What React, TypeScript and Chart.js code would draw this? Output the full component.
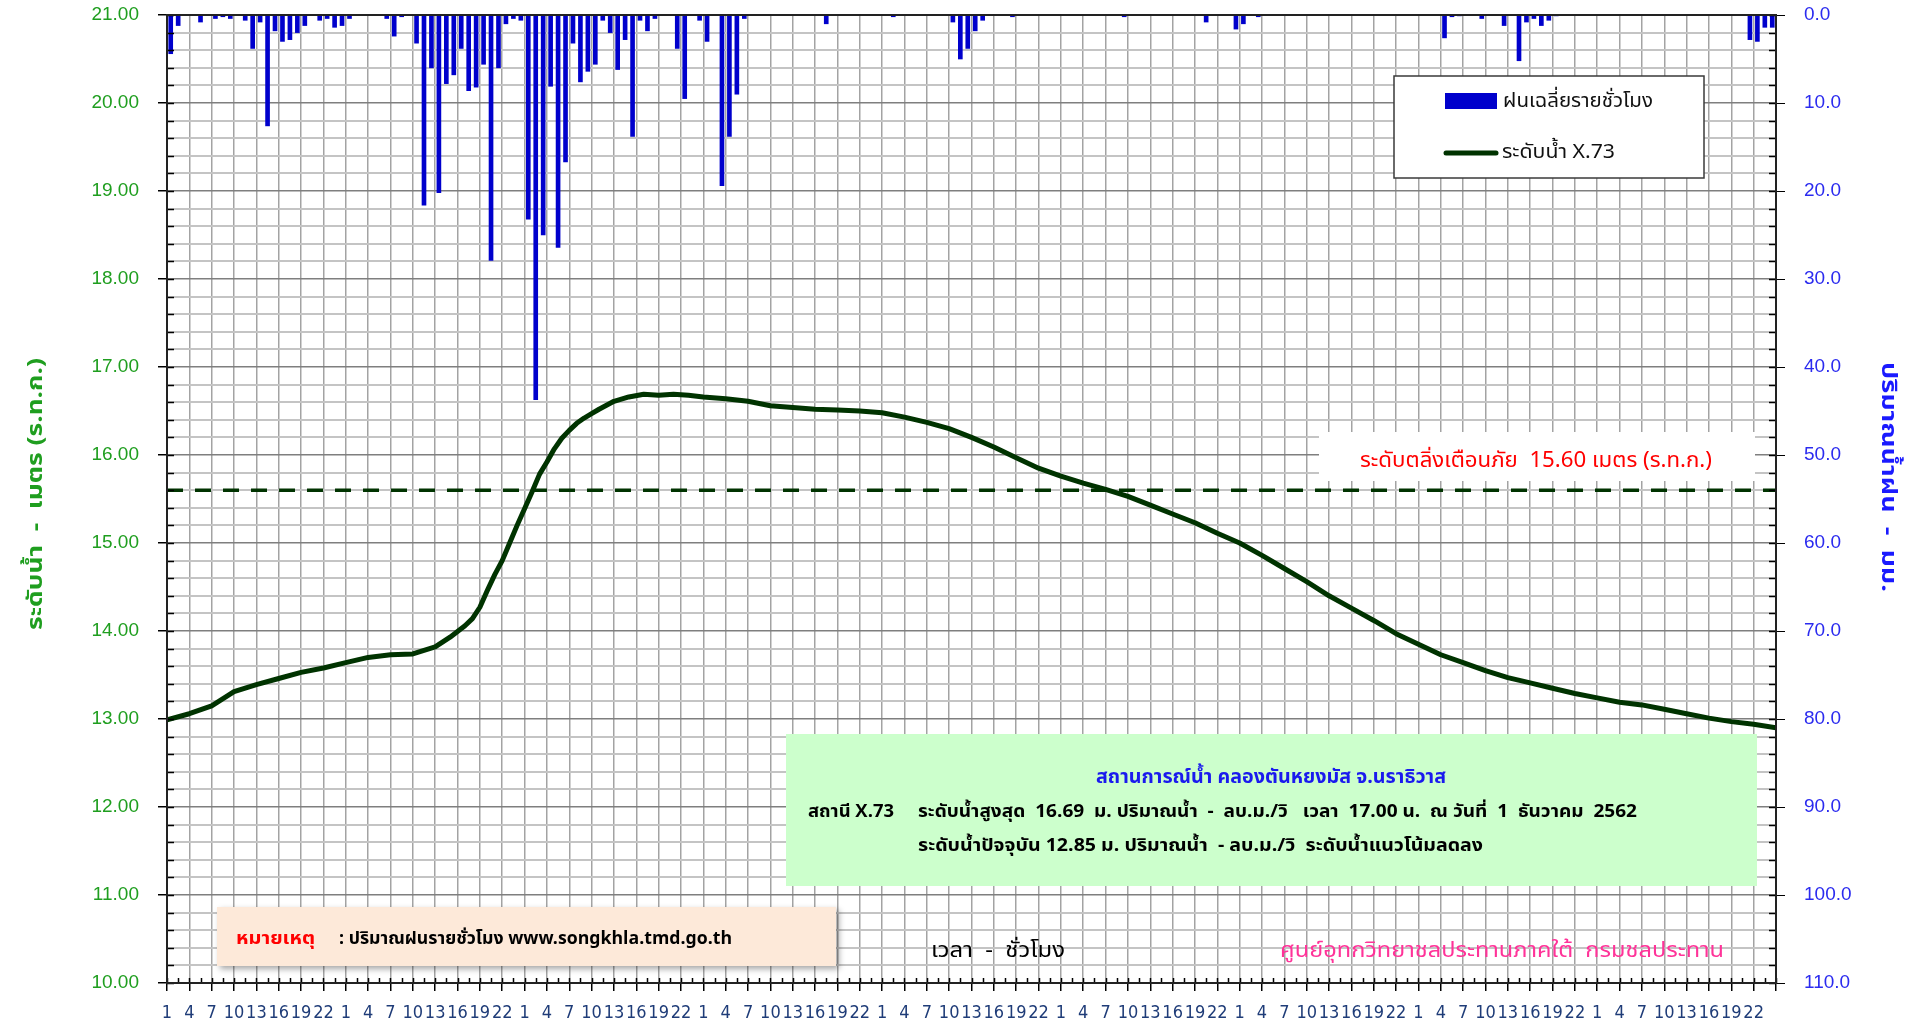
import { useEffect, useRef } from 'react';
import { Chart, registerables } from 'chart.js';

Chart.register(...registerables);

// ---------- data ----------
const hourTickLabels = ['1', '4', '7', '10', '13', '16', '19', '22'];

const levelHours = [
  0, 3, 6, 9, 12, 15, 18, 21, 24, 27, 30, 33, 36, 38, 40, 41, 42, 43, 44, 45, 46, 47, 48, 49, 50,
  51, 52, 53, 54, 55, 56, 57, 58, 60, 62, 64, 66, 68, 70, 72, 75, 78, 81, 84, 87, 90, 93, 96, 99,
  102, 105, 108, 111, 114, 117, 120, 123, 126, 129, 132, 135, 138, 141, 144, 147, 150, 153, 156,
  159, 162, 165, 168, 171, 174, 177, 180, 183, 186, 189, 192, 195, 198, 201, 204, 207, 210, 213, 216,
];
const levelValues = [
  12.99, 13.06, 13.15, 13.31, 13.39, 13.46, 13.53, 13.58, 13.64, 13.7, 13.73, 13.74, 13.82, 13.93,
  14.06, 14.14, 14.27, 14.46, 14.64, 14.8, 15.0, 15.2, 15.39, 15.58, 15.78, 15.92, 16.07, 16.19,
  16.28, 16.36, 16.42, 16.47, 16.52, 16.61, 16.66, 16.69, 16.68, 16.69, 16.68, 16.66, 16.64, 16.61,
  16.56, 16.54, 16.52, 16.51, 16.5, 16.48, 16.43, 16.37, 16.3, 16.2, 16.09, 15.97, 15.85, 15.76,
  15.68, 15.61, 15.53, 15.43, 15.33, 15.23, 15.11, 15.0, 14.86, 14.71, 14.56, 14.4, 14.26, 14.12,
  13.97, 13.85, 13.73, 13.64, 13.55, 13.47, 13.41, 13.35, 13.29, 13.24, 13.19, 13.16, 13.11, 13.06,
  13.01, 12.97, 12.94, 12.9,
];

const rainHours = [
  0, 1, 4, 6, 7, 8, 10, 11, 12, 13, 14, 15, 16, 17, 18, 20, 21, 22, 23, 24, 29, 30, 31, 33, 34, 35,
  36, 37, 38, 39, 40, 41, 42, 43, 44, 45, 46, 47, 48, 49, 50, 51, 52, 53, 54, 55, 56, 57, 58, 59,
  60, 61, 62, 63, 64, 65, 68, 69, 71, 72, 74, 75, 76, 77, 88, 97, 105, 106, 107, 108, 109, 113, 128,
  139, 143, 144, 146, 171, 172, 173, 176, 179, 181, 182, 183, 184, 185, 186, 212, 213, 214, 215,
];
const rainValues = [
  4.4, 1.2, 0.8, 0.4, 0.2, 0.4, 0.6, 3.8, 0.8, 12.6, 1.8, 3.0, 2.8, 2.0, 1.2, 0.6, 0.4, 1.4, 1.2,
  0.4, 0.4, 2.4, 0.2, 3.2, 21.6, 6.0, 20.2, 7.8, 6.8, 3.8, 8.6, 8.2, 5.6, 27.9, 6.0, 1.0, 0.4, 0.6,
  23.2, 43.7, 25.0, 8.1, 26.4, 16.7, 3.2, 7.6, 6.4, 5.6, 0.6, 2.0, 6.2, 2.8, 13.8, 0.6, 1.8, 0.4,
  3.8, 9.5, 0.6, 3.0, 19.4, 13.8, 9.0, 0.4, 1.0, 0.2, 0.8, 5.0, 3.8, 1.8, 0.6, 0.2, 0.2, 0.8, 1.6,
  1.0, 0.2, 2.6, 0.2, 0.1, 0.4, 1.2, 5.2, 0.8, 0.4, 1.2, 0.6, 0.1, 2.8, 3.0, 1.4, 1.4,
];

const warningLevel = 15.6;
const axisStart = 0;
const axisEnd = 216;

// ---------- styling ----------
const THAI = "'Noto Sans Thai', 'Noto Sans Thai UI', 'Tahoma', 'Loma', 'Garuda', 'Waree', 'DejaVu Sans', sans-serif";
const NUM = "'Liberation Sans', Arial, sans-serif";
const NARROW = "'Liberation Sans Narrow', 'DejaVu Sans Condensed', 'Liberation Sans', sans-serif";

const isInt = (v: number) => Math.abs(v - Math.round(v)) < 1e-6;

type TOpts = { size: number; weight?: string; color: string; align?: 'left' | 'center' | 'right'; width?: number; family?: string };

function drawText(ctx: CanvasRenderingContext2D, s: string, x: number, y: number, o: TOpts) {
  ctx.save();
  ctx.font = `${o.weight || 'normal'} ${o.size}px ${o.family || THAI}`;
  ctx.fillStyle = o.color;
  ctx.textBaseline = 'alphabetic';
  ctx.textAlign = 'left';
  const m = ctx.measureText(s).width;
  const w = o.width ?? m;
  const sx = w / m;
  let x0 = x;
  if (o.align === 'center') x0 = x - w / 2;
  else if (o.align === 'right') x0 = x - w;
  ctx.translate(x0, y);
  ctx.scale(sx, 1);
  ctx.fillText(s, 0, 0);
  ctx.restore();
}

function drawRot(ctx: CanvasRenderingContext2D, s: string, cx: number, cy: number, angle: number, o: TOpts) {
  ctx.save();
  ctx.translate(cx, cy);
  ctx.rotate(angle);
  drawText(ctx, s, 0, 0, { ...o, align: 'center' });
  ctx.restore();
}

const decor = {
  id: 'decor',
  afterDatasetsDraw(chart: any) {
    const ctx: CanvasRenderingContext2D = chart.ctx;
    ctx.save();

    // legend box
    ctx.fillStyle = '#ffffff';
    ctx.fillRect(1394, 76, 310, 102);
    ctx.strokeStyle = '#3a3a3a';
    ctx.lineWidth = 1.5;
    ctx.strokeRect(1394, 76, 310, 102);
    ctx.fillStyle = '#0000cc';
    ctx.fillRect(1445, 93, 52, 16);
    drawText(ctx, 'ฝนเฉลี่ยรายชั่วโมง', 1503, 107, { size: 20, color: '#111', width: 150 });
    ctx.strokeStyle = '#003300';
    ctx.lineWidth = 5;
    ctx.lineCap = 'round';
    ctx.beginPath();
    ctx.moveTo(1446, 153);
    ctx.lineTo(1496, 153);
    ctx.stroke();
    drawText(ctx, 'ระดับน้ำ X.73', 1502, 158, { size: 20, color: '#111', width: 113 });

    // warning label
    ctx.fillStyle = '#ffffff';
    ctx.fillRect(1319, 432, 436, 49);
    drawText(ctx, 'ระดับตลิ่งเตือนภัย  15.60 เมตร (ร.ท.ก.)', 1360, 467, { size: 21, color: '#ff0000', width: 352 });

    // info box
    ctx.fillStyle = '#ccffcc';
    ctx.fillRect(786, 734, 971, 152);
    drawText(ctx, 'สถานการณ์น้ำ คลองตันหยงมัส จ.นราธิวาส', 1271, 783, { size: 19, weight: 'bold', color: '#1a1aee', align: 'center', width: 350 });
    drawText(ctx, 'สถานี X.73', 808, 817, { size: 17, weight: 'bold', color: '#000', width: 86 });
    drawText(ctx, 'ระดับน้ำสูงสุด  16.69  ม. ปริมาณน้ำ  -  ลบ.ม./วิ   เวลา  17.00 น.  ณ วันที่  1  ธันวาคม  2562', 918, 817, { size: 17, weight: 'bold', color: '#000', width: 719 });
    drawText(ctx, 'ระดับน้ำปัจจุบัน 12.85 ม. ปริมาณน้ำ  - ลบ.ม./วิ  ระดับน้ำแนวโน้มลดลง', 918, 851, { size: 17, weight: 'bold', color: '#000', width: 565 });

    // note box
    ctx.save();
    ctx.shadowColor = 'rgba(0,0,0,0.35)';
    ctx.shadowBlur = 6;
    ctx.shadowOffsetX = 3;
    ctx.shadowOffsetY = 3;
    ctx.fillStyle = '#fde9d9';
    ctx.fillRect(217, 907, 619, 59);
    ctx.restore();
    drawText(ctx, 'หมายเหตุ', 236, 944, { size: 17, weight: 'bold', color: '#ff0000', width: 79 });
    drawText(ctx, ': ปริมาณฝนรายชั่วโมง www.songkhla.tmd.go.th', 339, 944, { size: 17, weight: 'bold', color: '#000', width: 393 });

    // x axis title and credit
    drawText(ctx, 'เวลา  -  ชั่วโมง', 931, 957, { size: 21, color: '#000', width: 134 });
    drawText(ctx, 'ศูนย์อุทกวิทยาชลประทานภาคใต้  กรมชลประทาน', 1280, 957, { size: 21, color: '#ff3399', width: 444 });

    // axis titles
    drawRot(ctx, 'ระดับน้ำ  -  เมตร (ร.ท.ก.)', 42, 494, -Math.PI / 2, { size: 21, weight: 'bold', color: '#1f9e1f', width: 272 });
    drawRot(ctx, 'ปริมาณน้ำฝน  -  มม.', 1882, 477, Math.PI / 2, { size: 21, weight: 'bold', color: '#1a1aff', width: 230 });

    ctx.restore();
  },
  afterDraw(chart: any) {
    const ctx: CanvasRenderingContext2D = chart.ctx;
    const { left, right, top, bottom } = chart.chartArea;
    const sx = chart.scales.x;
    const sy = chart.scales.y;
    const sr = chart.scales.yR;
    ctx.save();
    ctx.strokeStyle = '#000';
    ctx.lineWidth = 1.5;
    ctx.beginPath();
    for (const t of sy.ticks) {
      const p = Math.round(sy.getPixelForValue(t.value)) + 0.5;
      ctx.moveTo(left, p);
      ctx.lineTo(left + 7, p);
    }
    for (const t of sr.ticks) {
      const p = Math.round(sr.getPixelForValue(t.value)) + 0.5;
      ctx.moveTo(right, p);
      ctx.lineTo(right - 7, p);
    }
    for (const t of sx.ticks) {
      for (const off of [0, 1.5]) {
        const v = t.value + off;
        if (v > axisEnd) continue;
        const p = Math.round(sx.getPixelForValue(v)) + 0.5;
        ctx.moveTo(p, bottom);
        ctx.lineTo(p, bottom - 5);
      }
    }
    ctx.stroke();
    ctx.lineWidth = 2;
    ctx.strokeStyle = '#222';
    ctx.strokeRect(left, top, right - left, bottom - top);
    ctx.restore();
  },
};

export default function App() {
  const ref = useRef<HTMLCanvasElement | null>(null);

  useEffect(() => {
    if (!ref.current) return;
    const chart = new Chart(ref.current, {
      type: 'bar',
      data: {
        datasets: [
          {
            type: 'line',
            label: 'ระดับน้ำ X.73',
            data: levelHours.map((h, i) => ({ x: h, y: levelValues[i] })),
            borderColor: '#003300',
            borderWidth: 5,
            pointRadius: 0,
            tension: 0,
            borderJoinStyle: 'round',
            borderCapStyle: 'round',
            yAxisID: 'y',
            xAxisID: 'x',
            order: 0,
          },
          {
            type: 'line',
            label: 'ระดับตลิ่งเตือนภัย',
            data: [
              { x: axisStart, y: warningLevel },
              { x: axisEnd, y: warningLevel },
            ],
            borderColor: '#003300',
            borderWidth: 3.5,
            borderDash: [16, 12],
            pointRadius: 0,
            yAxisID: 'y',
            xAxisID: 'x',
            order: 1,
          },
          {
            type: 'bar',
            label: 'ฝนเฉลี่ยรายชั่วโมง',
            data: rainHours.map((h, i) => ({ x: h + 0.5, y: rainValues[i] })),
            backgroundColor: '#0000cc',
            barThickness: 4,
            yAxisID: 'yR',
            xAxisID: 'x',
            order: 2,
          },
        ],
      } as any,
      options: {
        responsive: false,
        animation: false,
        devicePixelRatio: 1,
        layout: { padding: { top: 15, left: 0, right: 0, bottom: 0 } },
        plugins: { legend: { display: false }, tooltip: { enabled: false } },
        scales: {
          x: {
            type: 'linear',
            position: 'bottom',
            min: axisStart,
            max: axisEnd,
            offset: false,
            ticks: {
              stepSize: 3,
              autoSkip: false,
              maxRotation: 0,
              minRotation: 0,
              padding: 12,
              color: '#1f3c78',
              font: { family: NARROW, size: 18 },
              callback: (v: any) => (Number(v) >= axisEnd ? '' : hourTickLabels[Math.round(Number(v) / 3) % 8]),
            },
            grid: { color: '#a3a3a3', lineWidth: 1.5, tickLength: 8, tickColor: '#000', offset: false },
            border: { color: '#000', width: 2 },
            afterFit: (s: any) => {
              s.height = 45;
              s.paddingLeft = 0;
              s.paddingRight = 0;
            },
          },
          y: {
            type: 'linear',
            position: 'left',
            min: 10,
            max: 21,
            ticks: {
              stepSize: 0.2,
              autoSkip: false,
              padding: 19,
              color: '#1f9e1f',
              font: { family: NUM, size: 19 },
              callback: (v: any) => (isInt(Number(v)) ? Number(v).toFixed(2) : ''),
            },
            grid: {
              color: (c: any) => (c.tick && isInt(c.tick.value) ? '#7f7f7f' : '#c4c4c4'),
              lineWidth: (c: any) => (c.tick && isInt(c.tick.value) ? 1.5 : 2),
              tickLength: 9,
              tickColor: (c: any) => (c.tick && isInt(c.tick.value) ? '#000' : 'rgba(0,0,0,0)'),
            },
            border: { color: '#000', width: 2 },
            afterFit: (s: any) => {
              s.width = 167;
              s.paddingTop = 0;
              s.paddingBottom = 0;
            },
          },
          yR: {
            type: 'linear',
            position: 'right',
            min: 0,
            max: 110,
            reverse: true,
            ticks: {
              stepSize: 2,
              autoSkip: false,
              padding: 19,
              color: '#2b2bef',
              font: { family: NUM, size: 19 },
              callback: (v: any) => (Math.round(Number(v)) % 10 === 0 ? Number(v).toFixed(1) : ''),
            },
            grid: {
              drawOnChartArea: false,
              tickLength: 9,
              tickColor: (c: any) => (c.tick && Math.round(c.tick.value) % 10 === 0 ? '#000' : 'rgba(0,0,0,0)'),
            },
            border: { color: '#000', width: 2 },
            afterFit: (s: any) => {
              s.width = 148;
              s.paddingTop = 0;
              s.paddingBottom = 0;
            },
          },
        },
      } as any,
      plugins: [decor],
    });
    return () => chart.destroy();
  }, []);

  return (
    <div style={{ position: 'fixed', left: 0, top: 0, width: 1924, height: 1028, background: '#fff' }}>
      <canvas ref={ref} width={1924} height={1028} style={{ display: 'block', width: 1924, height: 1028 }} />
    </div>
  );
}
